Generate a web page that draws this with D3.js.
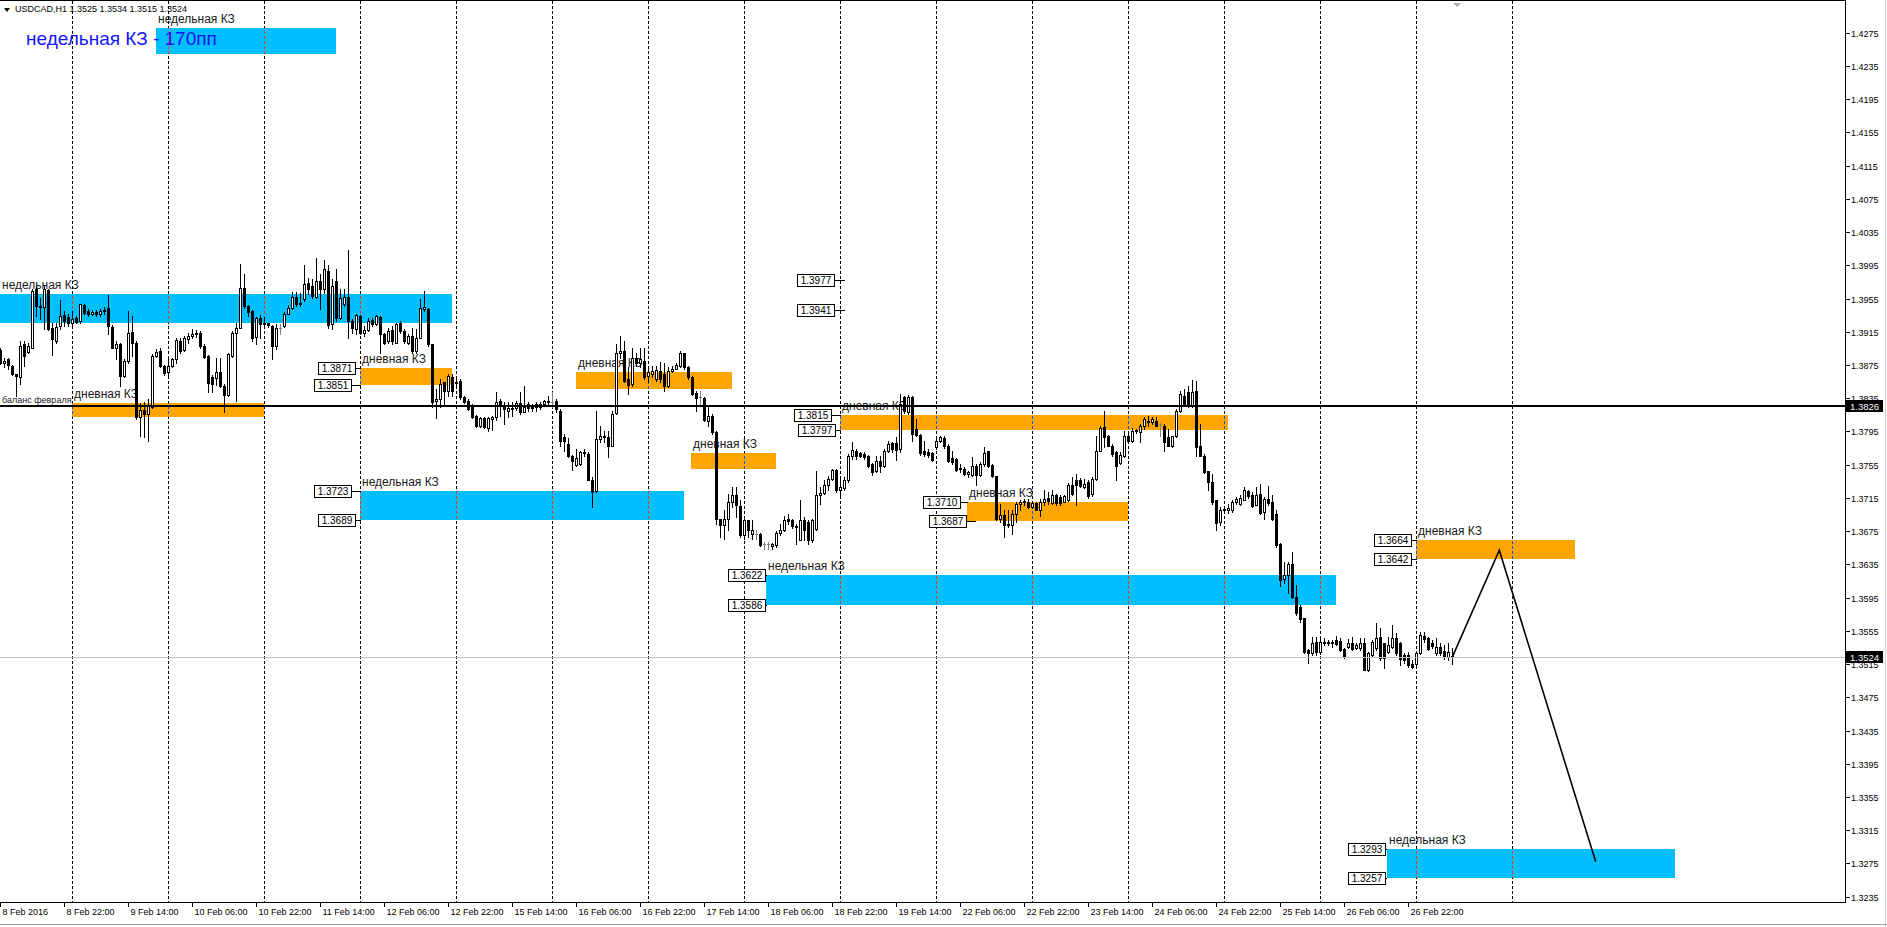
<!DOCTYPE html>
<html><head><meta charset="utf-8">
<script src="https://cdn.jsdelivr.net/npm/d3@7"></script>
<style>
html,body{margin:0;padding:0;background:#fff;overflow:hidden}
svg{display:block}
text{font-family:"Liberation Sans",Arial,sans-serif}
</style></head><body>
<svg id="c" width="1887" height="927"></svg>
<script>
// ---------- DATA (USDCAD H1, bar 0 = 8 Feb 2016 06:00) ----------
const open = [
1.3893,1.3877,1.3882,1.3874,1.3864,1.3860,1.3900,1.3891,1.3896,1.3966,
1.3946,1.3945,1.3965,1.3920,1.3904,1.3922,1.3935,1.3933,1.3926,1.3932,
1.3928,1.3947,1.3940,1.3936,1.3939,1.3936,1.3940,1.3944,1.3921,1.3895,
1.3900,1.3862,1.3880,1.3915,1.3902,1.3812,1.3821,1.3816,1.3824,1.3886,
1.3892,1.3874,1.3866,1.3874,1.3882,1.3904,1.3893,1.3906,1.3910,1.3912,
1.3914,1.3898,1.3886,1.3861,1.3859,1.3867,1.3850,1.3839,1.3886,1.3914,
1.3920,1.3968,1.3946,1.3940,1.3909,1.3931,1.3924,1.3926,1.3922,1.3898,
1.3920,1.3922,1.3937,1.3944,1.3957,1.3948,1.3954,1.3974,1.3970,1.3957,
1.3976,1.3966,1.3988,1.3924,1.3976,1.3932,1.3949,1.3957,1.3928,1.3918,
1.3934,1.3914,1.3917,1.3929,1.3924,1.3933,1.3912,1.3904,1.3917,1.3902,
1.3926,1.3916,1.3902,1.3910,1.3892,1.3908,1.3943,1.3942,1.3900,1.3832,
1.3834,1.3854,1.3844,1.3861,1.3853,1.3856,1.3836,1.3832,1.3824,1.3814,
1.3801,1.3811,1.3799,1.3810,1.3812,1.3832,1.3826,1.3820,1.3823,1.3823,
1.3829,1.3819,1.3828,1.3823,1.3828,1.3824,1.3828,1.3832,1.3831,1.3832,
1.3820,1.3788,1.3780,1.3766,1.3755,1.3756,1.3770,1.3768,1.3736,1.3723,
1.3786,1.3789,1.3788,1.3778,1.3817,1.3889,1.3892,1.3858,1.3852,1.3884,
1.3878,1.3880,1.3862,1.3864,1.3858,1.3868,1.3864,1.3850,1.3868,1.3870,
1.3874,1.3889,1.3872,1.3861,1.3841,1.3836,1.3835,1.3808,1.3814,1.3794,
1.3690,1.3682,1.3690,1.3710,1.3719,1.3705,1.3670,1.3688,1.3672,1.3672,
1.3671,1.3659,1.3659,1.3657,1.3658,1.3673,1.3676,1.3690,1.3688,1.3680,
1.3664,1.3688,1.3686,1.3664,1.3678,1.3718,1.3721,1.3730,1.3738,1.3749,
1.3725,1.3727,1.3737,1.3765,1.3772,1.3769,1.3768,1.3766,1.3756,1.3748,
1.3759,1.3753,1.3772,1.3781,1.3781,1.3774,1.3836,1.3818,1.3836,1.3798,
1.3791,1.3771,1.3770,1.3769,1.3776,1.3784,1.3787,1.3777,1.3763,1.3762,
1.3750,1.3750,1.3744,1.3742,1.3754,1.3742,1.3756,1.3771,1.3755,1.3741,
1.3690,1.3695,1.3684,1.3683,1.3696,1.3708,1.3710,1.3710,1.3704,1.3709,
1.3701,1.3710,1.3715,1.3709,1.3719,1.3716,1.3710,1.3712,1.3730,1.3736,
1.3737,1.3728,1.3734,1.3720,1.3738,1.3771,1.3800,1.3789,1.3778,1.3770,
1.3757,1.3766,1.3790,1.3784,1.3795,1.3794,1.3801,1.3806,1.3806,1.3808,
1.3804,1.3802,1.3788,1.3778,1.3789,1.3820,1.3838,1.3842,1.3826,1.3844,
1.3777,1.3766,1.3747,1.3734,1.3712,1.3686,1.3701,1.3700,1.3701,1.3710,
1.3708,1.3713,1.3723,1.3719,1.3707,1.3720,1.3698,1.3714,1.3710,1.3696,
1.3660,1.3618,1.3622,1.3636,1.3596,1.3584,1.3570,1.3532,1.3528,1.3541,
1.3529,1.3540,1.3541,1.3540,1.3544,1.3543,1.3533,1.3535,1.3540,1.3534,
1.3534,1.3540,1.3508,1.3526,1.3534,1.3548,1.3540,1.3530,1.3536,1.3546,
1.3540,1.3526,1.3526,1.3515,1.3515,1.3528,1.3549,1.3546,1.3540,1.3528,
1.3536,1.3531,1.3524,1.3525];
const high = [
1.3896,1.3883,1.3884,1.3875,1.3864,1.3904,1.3904,1.3901,1.3966,1.3970,
1.3956,1.3970,1.3966,1.3926,1.3926,1.3953,1.3940,1.3936,1.3940,1.3934,
1.3949,1.3949,1.3942,1.3941,1.3941,1.3942,1.3945,1.3959,1.3923,1.3904,
1.3902,1.3882,1.3940,1.3934,1.3904,1.3829,1.3830,1.3834,1.3888,1.3894,
1.3895,1.3875,1.3882,1.3884,1.3908,1.3907,1.3910,1.3913,1.3918,1.3917,
1.3916,1.3900,1.3887,1.3863,1.3884,1.3884,1.3852,1.3889,1.3916,1.3926,
1.3996,1.3984,1.3947,1.3941,1.3933,1.3935,1.3933,1.3926,1.3923,1.3924,
1.3924,1.3939,1.3947,1.3963,1.3963,1.3962,1.3995,1.3980,1.3978,1.4004,
1.3985,1.4002,1.3995,1.3978,1.3990,1.3966,1.3966,1.4013,1.3930,1.3936,
1.3935,1.3922,1.3931,1.3932,1.3935,1.3934,1.3914,1.3919,1.3922,1.3926,
1.3928,1.3918,1.3912,1.3920,1.3918,1.3954,1.3964,1.3944,1.3900,1.3846,
1.3858,1.3855,1.3864,1.3864,1.3858,1.3858,1.3838,1.3834,1.3828,1.3815,
1.3812,1.3812,1.3812,1.3814,1.3842,1.3834,1.3830,1.3830,1.3830,1.3832,
1.3842,1.3850,1.3830,1.3828,1.3831,1.3830,1.3833,1.3838,1.3842,1.3834,
1.3822,1.3792,1.3787,1.3767,1.3774,1.3772,1.3774,1.3770,1.3740,1.3820,
1.3802,1.3796,1.3796,1.3820,1.3900,1.3910,1.3904,1.3872,1.3896,1.3890,
1.3896,1.3896,1.3874,1.3874,1.3874,1.3879,1.3878,1.3872,1.3874,1.3877,
1.3892,1.3890,1.3874,1.3862,1.3844,1.3844,1.3836,1.3826,1.3816,1.3796,
1.3690,1.3700,1.3720,1.3728,1.3728,1.3712,1.3690,1.3689,1.3688,1.3676,
1.3673,1.3662,1.3662,1.3661,1.3675,1.3684,1.3693,1.3696,1.3690,1.3684,
1.3712,1.3692,1.3688,1.3690,1.3748,1.3728,1.3736,1.3741,1.3750,1.3750,
1.3740,1.3740,1.3768,1.3782,1.3774,1.3770,1.3770,1.3767,1.3757,1.3765,
1.3766,1.3774,1.3784,1.3782,1.3788,1.3840,1.3838,1.3839,1.3838,1.3810,
1.3792,1.3784,1.3774,1.3770,1.3788,1.3790,1.3789,1.3780,1.3772,1.3763,
1.3756,1.3752,1.3748,1.3764,1.3756,1.3758,1.3776,1.3772,1.3756,1.3741,
1.3708,1.3700,1.3700,1.3700,1.3710,1.3713,1.3714,1.3714,1.3711,1.3710,
1.3714,1.3724,1.3722,1.3724,1.3720,1.3718,1.3719,1.3733,1.3740,1.3744,
1.3739,1.3738,1.3736,1.3740,1.3790,1.3801,1.3820,1.3791,1.3780,1.3772,
1.3770,1.3796,1.3796,1.3799,1.3798,1.3804,1.3812,1.3814,1.3813,1.3812,
1.3805,1.3804,1.3798,1.3790,1.3822,1.3844,1.3846,1.3850,1.3857,1.3856,
1.3804,1.3768,1.3748,1.3744,1.3713,1.3704,1.3704,1.3708,1.3712,1.3716,
1.3718,1.3728,1.3725,1.3722,1.3728,1.3732,1.3716,1.3729,1.3719,1.3700,
1.3661,1.3638,1.3638,1.3650,1.3610,1.3586,1.3571,1.3533,1.3548,1.3548,
1.3546,1.3546,1.3544,1.3544,1.3549,1.3546,1.3534,1.3545,1.3548,1.3540,
1.3546,1.3546,1.3530,1.3544,1.3564,1.3558,1.3540,1.3548,1.3562,1.3552,
1.3542,1.3528,1.3530,1.3520,1.3530,1.3554,1.3554,1.3548,1.3544,1.3546,
1.3540,1.3538,1.3540,1.3534];
const low = [
1.3876,1.3872,1.3870,1.3863,1.3838,1.3852,1.3874,1.3889,1.3895,1.3934,
1.3930,1.3918,1.3917,1.3887,1.3901,1.3918,1.3922,1.3922,1.3920,1.3925,
1.3926,1.3936,1.3934,1.3935,1.3934,1.3934,1.3936,1.3912,1.3895,1.3882,
1.3850,1.3860,1.3878,1.3886,1.3810,1.3790,1.3788,1.3784,1.3823,1.3885,
1.3872,1.3863,1.3863,1.3872,1.3877,1.3890,1.3892,1.3902,1.3908,1.3909,
1.3896,1.3884,1.3843,1.3843,1.3851,1.3849,1.3818,1.3838,1.3885,1.3832,
1.3919,1.3944,1.3934,1.3904,1.3900,1.3908,1.3919,1.3921,1.3882,1.3894,
1.3912,1.3921,1.3936,1.3943,1.3946,1.3946,1.3952,1.3960,1.3956,1.3956,
1.3943,1.3962,1.3920,1.3918,1.3928,1.3930,1.3946,1.3907,1.3914,1.3912,
1.3912,1.3910,1.3916,1.3922,1.3923,1.3890,1.3900,1.3902,1.3900,1.3902,
1.3914,1.3902,1.3900,1.3890,1.3889,1.3907,1.3940,1.3898,1.3824,1.3811,
1.3824,1.3828,1.3838,1.3838,1.3850,1.3834,1.3829,1.3821,1.3811,1.3800,
1.3800,1.3799,1.3796,1.3797,1.3809,1.3814,1.3804,1.3812,1.3814,1.3821,
1.3816,1.3818,1.3820,1.3820,1.3820,1.3822,1.3826,1.3828,1.3824,1.3818,
1.3778,1.3772,1.3764,1.3749,1.3753,1.3755,1.3766,1.3736,1.3704,1.3722,
1.3782,1.3782,1.3764,1.3777,1.3816,1.3884,1.3855,1.3840,1.3850,1.3874,
1.3873,1.3858,1.3854,1.3860,1.3856,1.3854,1.3844,1.3848,1.3866,1.3870,
1.3873,1.3870,1.3858,1.3839,1.3820,1.3826,1.3808,1.3802,1.3792,1.3684,
1.3668,1.3666,1.3676,1.3704,1.3692,1.3668,1.3666,1.3668,1.3666,1.3666,
1.3657,1.3654,1.3654,1.3654,1.3656,1.3670,1.3675,1.3684,1.3679,1.3660,
1.3664,1.3664,1.3660,1.3662,1.3677,1.3708,1.3720,1.3724,1.3736,1.3722,
1.3716,1.3725,1.3734,1.3762,1.3762,1.3764,1.3762,1.3752,1.3742,1.3746,
1.3746,1.3752,1.3770,1.3770,1.3761,1.3770,1.3817,1.3816,1.3784,1.3790,
1.3767,1.3766,1.3764,1.3759,1.3774,1.3782,1.3775,1.3758,1.3756,1.3748,
1.3746,1.3742,1.3740,1.3741,1.3730,1.3741,1.3754,1.3752,1.3740,1.3689,
1.3686,1.3668,1.3680,1.3672,1.3686,1.3700,1.3706,1.3703,1.3703,1.3700,
1.3693,1.3706,1.3708,1.3708,1.3707,1.3707,1.3710,1.3711,1.3718,1.3706,
1.3728,1.3727,1.3715,1.3717,1.3737,1.3771,1.3776,1.3777,1.3766,1.3737,
1.3756,1.3764,1.3782,1.3782,1.3793,1.3782,1.3798,1.3802,1.3804,1.3801,
1.3790,1.3772,1.3777,1.3776,1.3788,1.3818,1.3826,1.3824,1.3824,1.3765,
1.3765,1.3745,1.3724,1.3708,1.3676,1.3682,1.3698,1.3697,1.3698,1.3708,
1.3706,1.3712,1.3715,1.3704,1.3706,1.3696,1.3690,1.3706,1.3689,1.3656,
1.3609,1.3612,1.3600,1.3594,1.3574,1.3566,1.3528,1.3516,1.3526,1.3526,
1.3527,1.3538,1.3538,1.3536,1.3538,1.3531,1.3522,1.3534,1.3532,1.3533,
1.3532,1.3508,1.3507,1.3524,1.3532,1.3520,1.3510,1.3528,1.3534,1.3526,
1.3514,1.3516,1.3511,1.3510,1.3514,1.3527,1.3542,1.3532,1.3534,1.3526,
1.3526,1.3521,1.3520,1.3515];
const close = [
1.3877,1.3880,1.3875,1.3864,1.3862,1.3898,1.3886,1.3898,1.3964,1.3946,
1.3945,1.3966,1.3918,1.3906,1.3921,1.3934,1.3928,1.3925,1.3930,1.3927,
1.3948,1.3938,1.3936,1.3939,1.3936,1.3940,1.3941,1.3922,1.3896,1.3900,
1.3862,1.3880,1.3913,1.3902,1.3812,1.3821,1.3816,1.3826,1.3886,1.3891,
1.3874,1.3865,1.3874,1.3882,1.3905,1.3892,1.3908,1.3910,1.3912,1.3913,
1.3898,1.3885,1.3853,1.3852,1.3866,1.3850,1.3839,1.3888,1.3913,1.3920,
1.3968,1.3946,1.3939,1.3908,1.3932,1.3924,1.3926,1.3923,1.3898,1.3920,
1.3920,1.3937,1.3944,1.3957,1.3948,1.3950,1.3972,1.3966,1.3958,1.3976,
1.3966,1.3990,1.3923,1.3970,1.3932,1.3956,1.3957,1.3928,1.3919,1.3935,
1.3914,1.3917,1.3928,1.3924,1.3934,1.3912,1.3902,1.3916,1.3904,1.3924,
1.3916,1.3904,1.3910,1.3892,1.3908,1.3944,1.3945,1.3900,1.3831,1.3834,
1.3852,1.3844,1.3862,1.3844,1.3855,1.3836,1.3831,1.3822,1.3812,1.3801,
1.3811,1.3800,1.3811,1.3812,1.3831,1.3826,1.3822,1.3823,1.3822,1.3829,
1.3818,1.3825,1.3823,1.3825,1.3824,1.3828,1.3832,1.3831,1.3831,1.3822,
1.3784,1.3784,1.3766,1.3760,1.3763,1.3770,1.3769,1.3737,1.3722,1.3786,
1.3790,1.3790,1.3778,1.3816,1.3890,1.3892,1.3856,1.3851,1.3884,1.3878,
1.3882,1.3860,1.3866,1.3868,1.3869,1.3858,1.3850,1.3868,1.3870,1.3875,
1.3890,1.3872,1.3861,1.3840,1.3835,1.3836,1.3809,1.3814,1.3794,1.3690,
1.3682,1.3690,1.3710,1.3719,1.3706,1.3670,1.3688,1.3676,1.3677,1.3672,
1.3658,1.3659,1.3659,1.3659,1.3673,1.3676,1.3689,1.3687,1.3681,1.3681,
1.3688,1.3676,1.3664,1.3688,1.3718,1.3721,1.3731,1.3738,1.3749,1.3725,
1.3728,1.3737,1.3765,1.3773,1.3765,1.3765,1.3764,1.3754,1.3746,1.3760,
1.3753,1.3772,1.3780,1.3774,1.3773,1.3828,1.3820,1.3837,1.3792,1.3791,
1.3769,1.3768,1.3767,1.3761,1.3784,1.3788,1.3777,1.3760,1.3758,1.3749,
1.3751,1.3744,1.3746,1.3753,1.3742,1.3756,1.3769,1.3754,1.3741,1.3690,
1.3695,1.3682,1.3683,1.3696,1.3708,1.3710,1.3711,1.3704,1.3709,1.3701,
1.3710,1.3714,1.3711,1.3718,1.3709,1.3709,1.3717,1.3731,1.3720,1.3730,
1.3729,1.3732,1.3717,1.3738,1.3771,1.3799,1.3788,1.3778,1.3768,1.3754,
1.3767,1.3790,1.3784,1.3796,1.3797,1.3801,1.3810,1.3808,1.3810,1.3802,
1.3804,1.3782,1.3778,1.3789,1.3820,1.3840,1.3828,1.3826,1.3842,1.3776,
1.3766,1.3746,1.3734,1.3710,1.3685,1.3701,1.3702,1.3703,1.3710,1.3714,
1.3715,1.3725,1.3717,1.3705,1.3719,1.3697,1.3714,1.3709,1.3690,1.3658,
1.3616,1.3622,1.3636,1.3596,1.3576,1.3569,1.3530,1.3528,1.3540,1.3529,
1.3541,1.3542,1.3540,1.3541,1.3539,1.3532,1.3525,1.3540,1.3533,1.3538,
1.3540,1.3508,1.3528,1.3542,1.3546,1.3522,1.3522,1.3538,1.3546,1.3528,
1.3521,1.3520,1.3514,1.3512,1.3528,1.3550,1.3545,1.3533,1.3537,1.3536,
1.3528,1.3524,1.3530,1.3524];

// time-axis labels, one every 16 bars
const timeLabels = ["8 Feb 2016","8 Feb 22:00","9 Feb 14:00","10 Feb 06:00","10 Feb 22:00","11 Feb 14:00","12 Feb 06:00","12 Feb 22:00","15 Feb 14:00","16 Feb 06:00","16 Feb 22:00","17 Feb 14:00","18 Feb 06:00","18 Feb 22:00","19 Feb 14:00","22 Feb 06:00","22 Feb 22:00","23 Feb 14:00","24 Feb 06:00","24 Feb 22:00","25 Feb 14:00","26 Feb 06:00","26 Feb 22:00"];
const labelStep = 16;
// day separators (bar index of 00:00)
const dayStarts = [18,42,66,90,114,138,162,186,210,234,258,282,306,330,354,378];
// price axis ticks
const priceTicks = [1.3235,1.3275,1.3315,1.3355,1.3395,1.3435,1.3475,1.3515,1.3555,1.3595,1.3635,1.3675,1.3715,1.3755,1.3795,1.3835,1.3875,1.3915,1.3955,1.3995,1.4035,1.4075,1.4115,1.4155,1.4195,1.4235,1.4275];

// zones (rectangles): start/end in bar units, top/bottom prices
const zoneStart = [38.9, -10, 18, 90, 143.9, 172.8, 210, 90, 241.8, 191.5, 354, 346.7];
const zoneEnd   = [83.8, 112.9, 65.9, 112.9, 182.8, 193.8, 306.8, 170.9, 281.8, 333.9, 393.6, 418.6];
const zoneHigh  = [1.4281, 1.3961, 1.3829, 1.3871, 1.3867, 1.3769, 1.3815, 1.3723, 1.3710, 1.3622, 1.3664, 1.3293];
const zoneLow   = [1.4249, 1.3926, 1.3812, 1.3851, 1.3846, 1.3750, 1.3797, 1.3689, 1.3687, 1.3586, 1.3642, 1.3257];
const zoneKind  = ["w","w","d","d","d","d","d","w","d","w","d","w"];
const zoneLabel = ["недельная КЗ","недельная КЗ","дневная КЗ","дневная КЗ","дневная КЗ","дневная КЗ","дневная КЗ","недельная КЗ","дневная КЗ","недельная КЗ","дневная КЗ","недельная КЗ"];

// price label boxes
const levelPrice   = [1.3871, 1.3851, 1.3723, 1.3689, 1.3977, 1.3941, 1.3815, 1.3797, 1.3710, 1.3687, 1.3622, 1.3586, 1.3664, 1.3642, 1.3293, 1.3257];
const levelBoxEnd  = [88.6, 87.6, 87.6, 88.6, 208.4, 208.4, 207.6, 208.6, 239.9, 241.4, 191.1, 191.1, 352.5, 352.5, 346.1, 346.1];
const levelLineEnd = [90, 90, 90, 90, 211.1, 211.1, 210, 210, 241.8, 243.9, 191.5, 191.5, 354, 354, 346.7, 346.7];

// horizontal lines
const balancePrice = 1.3826;
const bidPrice = 1.3524;
// forecast path
const forecastT = [363, 374.7, 398.8];
const forecastP = [1.3524, 1.3652, 1.3277];

const header = "USDCAD,H1  1.3525 1.3534 1.3515 1.3524";
const bigNote = "недельная КЗ - 170пп";
const balanceNote = "баланс февраля";

// ---------- DRAW ----------
const svg = d3.select("#c");
const plotR = 1845, plotB = 902;
const x = d3.scaleLinear().domain([0, 461]).range([0.5, 1844.5]);
const y = d3.scaleLinear().domain([1.3235, 1.4275]).range([896.7, 32.7]);
const fmt = d3.format(".4f");
const BLUE = "#00BFFF", ORANGE = "#FFA500";

const defs = svg.append("defs");
defs.append("clipPath").attr("id","plot").append("rect").attr("x",0).attr("y",1).attr("width",plotR).attr("height",plotB-1);
const g = svg.append("g").attr("clip-path","url(#plot)");

const zones = zoneStart.map((t0,i)=>({t0, t1:zoneEnd[i], hi:zoneHigh[i], lo:zoneLow[i], kind:zoneKind[i], label:zoneLabel[i]}));
zones.forEach((z,i)=>{
  const x0 = Math.floor(x(z.t0)), x1 = Math.round(x(z.t1));
  const y0 = Math.round(y(z.hi)), y1 = Math.round(y(z.lo));
  z.box = {x0,x1,y0,y1};
  g.append("rect").attr("x",x0).attr("y",y0).attr("width",x1-x0).attr("height",y1-y0)
    .attr("fill", z.kind==="w"?BLUE:ORANGE);
  defs.append("clipPath").attr("id","z"+i).append("rect").attr("x",x0).attr("y",y0).attr("width",x1-x0).attr("height",y1-y0);
});

// day separators
dayStarts.forEach(d=>{
  const xx = Math.round(x(d)-0.5)+0.5;
  g.append("line").attr("x1",xx).attr("x2",xx).attr("y1",1).attr("y2",plotB)
    .attr("stroke","#000").attr("stroke-width",1).attr("stroke-dasharray","3,2");
  zones.forEach((z,i)=>{
    if (xx >= z.box.x0 && xx <= z.box.x1) {
      g.append("line").attr("x1",xx).attr("x2",xx).attr("y1",1).attr("y2",plotB)
        .attr("clip-path","url(#z"+i+")")
        .attr("stroke", z.kind==="w" ? "#FF3A10" : "#0A5AFF").attr("stroke-width",1).attr("stroke-dasharray","3,2");
    }
  });
});

// zone labels
zones.forEach(z=>{
  g.append("text").attr("x", Math.max(z.box.x0,0)+2).attr("y", z.box.y0-5)
    .attr("font-size",12).attr("fill","#1a1a1a").text(z.label);
});

// candles
const cg = g.append("g");
open.forEach((o,i)=>{
  const c = close[i], h = high[i], l = low[i];
  const xc = Math.round(x(i)-0.5);
  const col = (o===c) ? "#808080" : "#000";
  cg.append("line").attr("x1",xc+0.5).attr("x2",xc+0.5).attr("y1",Math.round(y(h))).attr("y2",Math.round(y(l))+1)
    .attr("stroke",col).attr("stroke-width",1);
  const top = Math.round(y(Math.max(o,c))), bot = Math.round(y(Math.min(o,c)));
  if (o===c) {
    cg.append("line").attr("x1",xc-1).attr("x2",xc+2).attr("y1",top+0.5).attr("y2",top+0.5).attr("stroke",col);
  } else if (c > o) {
    cg.append("rect").attr("x",xc-0.5).attr("y",top+0.5).attr("width",2).attr("height",Math.max(bot-top,1))
      .attr("fill","#fff").attr("stroke","#000").attr("stroke-width",1);
  } else {
    cg.append("rect").attr("x",xc-1).attr("y",top).attr("width",3).attr("height",Math.max(bot-top+1,1)).attr("fill","#000");
  }
});

// bid line
const yb = Math.round(y(bidPrice))+0.5;
g.append("line").attr("x1",0).attr("x2",plotR).attr("y1",yb).attr("y2",yb).attr("stroke","#c0c0c0").attr("stroke-width",1);

// balance line
const ybal = Math.round(y(balancePrice));
g.append("line").attr("x1",0).attr("x2",plotR).attr("y1",ybal).attr("y2",ybal).attr("stroke","#000").attr("stroke-width",2);
g.append("text").attr("x",2).attr("y",ybal-3).attr("font-size",9).attr("fill","#1a1a1a").text(balanceNote);

// forecast path
const path = d3.line().x(d=>x(d[0])).y(d=>y(d[1]));
g.append("path").attr("d", path(forecastT.map((t,i)=>[t,forecastP[i]])))
  .attr("fill","none").attr("stroke","#000").attr("stroke-width",1.6);

// price label boxes
levelPrice.forEach((p,i)=>{
  const xr = Math.round(x(levelBoxEnd[i])), yy = Math.round(y(p));
  const xl = Math.round(x(levelLineEnd[i]));
  g.append("line").attr("x1",xr).attr("x2",xl).attr("y1",yy+0.5).attr("y2",yy+0.5).attr("stroke","#000");
  g.append("rect").attr("x",xr-37+0.5).attr("y",yy-6+0.5).attr("width",37).attr("height",12)
    .attr("fill","#fff").attr("stroke","#000").attr("stroke-width",1);
  g.append("text").attr("x",xr-18).attr("y",yy+4).attr("text-anchor","middle")
    .attr("font-size",10).attr("fill","#000").text(fmt(p));
});

// big note
svg.append("text").attr("x",26).attr("y",45).attr("font-size",19).attr("fill","#1515ff").text(bigNote);

// frame
svg.append("line").attr("x1",0).attr("x2",plotR).attr("y1",0.5).attr("y2",0.5).attr("stroke","#000");
svg.append("line").attr("x1",plotR+0.5).attr("x2",plotR+0.5).attr("y1",0).attr("y2",plotB+1).attr("stroke","#000");
svg.append("line").attr("x1",0).attr("x2",plotR+1).attr("y1",plotB+0.5).attr("y2",plotB+0.5).attr("stroke","#000");
svg.append("line").attr("x1",1885.5).attr("x2",1885.5).attr("y1",0).attr("y2",927).attr("stroke","#d4d4d4");
svg.append("line").attr("x1",0).attr("x2",1887).attr("y1",924.5).attr("y2",924.5).attr("stroke","#a0a0a0");

// price axis
const ax = svg.append("g");
priceTicks.forEach(p=>{
  const yy = Math.round(y(p))+0.5;
  ax.append("line").attr("x1",plotR+1).attr("x2",plotR+5).attr("y1",yy).attr("y2",yy).attr("stroke","#000");
  ax.append("text").attr("x",1851).attr("y",yy+3.5).attr("font-size",9).attr("fill","#000").text(fmt(p));
});
[balancePrice,bidPrice].forEach(p=>{
  const yy = Math.round(y(p));
  ax.append("rect").attr("x",1846).attr("y",yy-6).attr("width",37).attr("height",12).attr("fill","#000");
  ax.append("text").attr("x",1850).attr("y",yy+4).attr("font-size",9.5).attr("fill","#fff").text(fmt(p));
});

// time axis
timeLabels.forEach((s,k)=>{
  const xx = Math.round(x(k*labelStep)-0.5)+0.5;
  ax.append("line").attr("x1",xx).attr("x2",xx).attr("y1",plotB+1).attr("y2",plotB+5).attr("stroke","#000");
  ax.append("text").attr("x",xx+2).attr("y",915).attr("font-size",9).attr("fill","#000").text(s);
});

// header
svg.append("path").attr("d","M4,8 L10,8 L7,12 Z").attr("fill","#000");
svg.append("text").attr("x",15).attr("y",12).attr("font-size",9).attr("fill","#000").text(header);
// shift marker
svg.append("path").attr("d","M1453,3 L1461,3 L1457,7 Z").attr("fill","#b0b0b0");
</script>
</body></html>
